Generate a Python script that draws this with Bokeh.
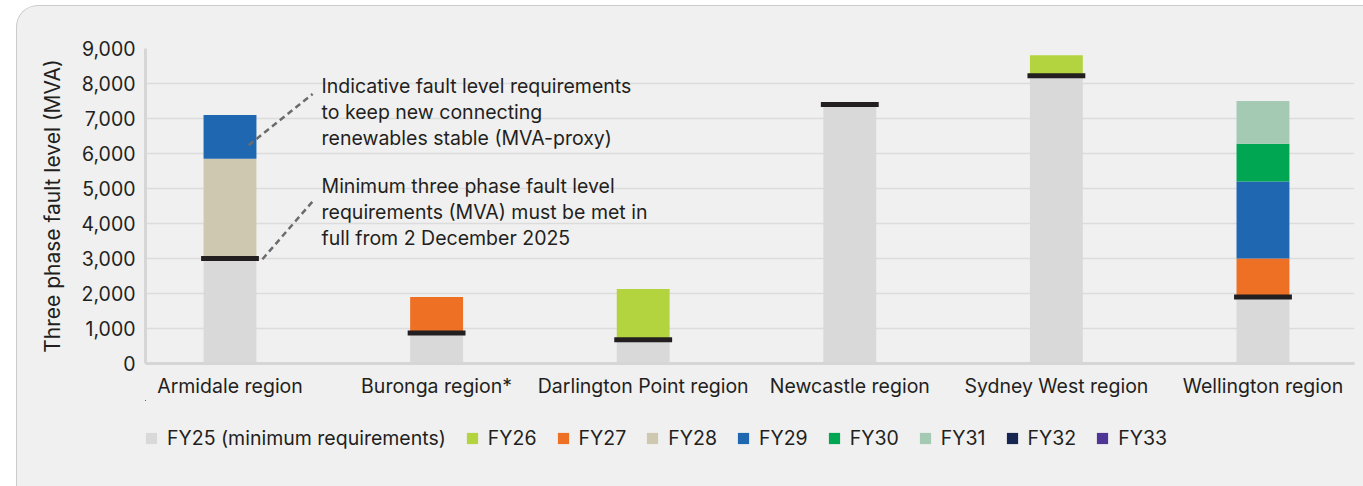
from bokeh.plotting import figure
from bokeh.layouts import column
from bokeh.models import (Range1d, FixedTicker, NumeralTickFormatter, Legend, LegendItem,
                          Label, Arrow, ColumnDataSource)
from bokeh.embed import file_html
from bokeh.resources import INLINE

# ---- data ----
regions = ["Armidale region", "Buronga region*", "Darlington Point region",
           "Newcastle region", "Sydney West region", "Wellington region"]
fy25 = [3000, 870, 680, 7400, 8220, 1900]
fy26 = [0, 0, 1450, 0, 590, 0]
fy27 = [0, 1030, 0, 0, 0, 1100]
fy28 = [2850, 0, 0, 0, 0, 0]
fy29 = [1250, 0, 0, 0, 0, 2200]
fy30 = [0, 0, 0, 0, 0, 1080]
fy31 = [0, 0, 0, 0, 0, 1220]
fy32 = [0, 0, 0, 0, 0, 0]
fy33 = [0, 0, 0, 0, 0, 0]
series_names = ["FY25 (minimum requirements)", "FY26", "FY27", "FY28", "FY29",
                "FY30", "FY31", "FY32", "FY33"]
y_ticks = [0, 1000, 2000, 3000, 4000, 5000, 6000, 7000, 8000, 9000]

colors = ["#d9d9d9", "#b4d43f", "#ed7024", "#cfc8b0", "#1f67b1",
          "#00a651", "#a4cab4", "#172651", "#4e3596"]

FONT = "Inter"
TXT = "#231f20"
BG = "#f0f0f0"

idx = list(range(len(regions)))
keys = ["s%d" % i for i in range(len(series_names))]
data = {"x": idx}
for k, arr in zip(keys, [fy25, fy26, fy27, fy28, fy29, fy30, fy31, fy32, fy33]):
    data[k] = arr
src = ColumnDataSource(data)

W = 1346

# ---- main chart ----
p = figure(width=W, height=394, output_backend="svg", toolbar_location=None,
           x_range=Range1d(-0.409, 5.443), y_range=Range1d(0, 9000),
           min_border_left=128, min_border_top=42, min_border_right=9,
           min_border_bottom=37)
p.background_fill_color = BG
p.border_fill_color = BG
p.outline_line_color = None

rends = p.vbar_stack(keys, x="x", width=0.256, source=src, color=colors, line_color=None)

# minimum requirement markers
p.rect(x=idx, y=fy25, width=0.28, height=5, height_units="screen",
       fill_color="#231f20", line_color=None)

p.xgrid.grid_line_color = None
p.ygrid.grid_line_color = "#dcdcdc"
p.ygrid.grid_line_width = 1.5
p.yaxis.ticker = FixedTicker(ticks=y_ticks)
p.yaxis.formatter = NumeralTickFormatter(format="0,0")
p.xaxis.ticker = FixedTicker(ticks=idx)
p.xaxis.major_label_overrides = {i: r for i, r in zip(idx, regions)}
for ax in (p.xaxis[0], p.yaxis[0]):
    ax.axis_line_color = "#d6d6d6"
    ax.axis_line_width = 3
    ax.major_tick_line_color = None
    ax.minor_tick_line_color = None
    ax.major_label_text_font = FONT
    ax.major_label_text_font_size = "19.5px"
    ax.major_label_text_color = TXT
p.xaxis.major_label_standoff = 4
p.yaxis.major_label_standoff = 4
p.yaxis.axis_label = "Three phase fault level (MVA)"
p.yaxis.axis_label_text_font = FONT
p.yaxis.axis_label_text_font_size = "21px"
p.yaxis.axis_label_text_font_style = "normal"
p.yaxis.axis_label_text_color = TXT
p.yaxis.axis_label_standoff = 14

# annotations
ann1 = ["Indicative fault level requirements", "to keep new connecting",
        "renewables stable (MVA-proxy)"]
ann2 = ["Minimum three phase fault level", "requirements (MVA) must be met in",
        "full from 2 December 2025"]
for lines, ys in ((ann1, [7923, 7180, 6437]), (ann2, [5066, 4323, 3580])):
    for t, yy in zip(lines, ys):
        p.add_layout(Label(x=0.443, y=yy, text=t, text_font=FONT,
                           text_font_size="19.5px", text_color=TXT,
                           text_baseline="alphabetic"))
for (x0, y0, x1, y1) in ((0.09, 6237, 0.40, 7700), (0.157, 2980, 0.41, 4700)):
    p.add_layout(Arrow(x_start=x0, y_start=y0, x_end=x1, y_end=y1, end=None,
                       line_color="#6b6b6b", line_width=2.5, line_dash="6 4"))

# ---- legend strip (same series, drawn out of view; only the legend shows) ----
lg = figure(width=W, height=86, output_backend="svg", toolbar_location=None,
            x_range=Range1d(100, 101), y_range=Range1d(-2, -1),
            min_border=0, x_axis_type=None, y_axis_type=None)
lg.background_fill_color = BG
lg.border_fill_color = BG
lg.outline_line_color = None
lg.xgrid.visible = False
lg.ygrid.visible = False
lrends = lg.vbar_stack(keys, x="x", width=0.256, source=src, color=colors, line_color=None)
items = [LegendItem(label=n, renderers=[r]) for n, r in zip(series_names, lrends)]
leg = Legend(items=items, orientation="horizontal", location=(-1, 36),
             background_fill_alpha=0, border_line_color=None,
             glyph_width=14, glyph_height=14, label_standoff=9, spacing=19,
             padding=0, margin=0, label_text_font=FONT, label_text_font_size="19.5px",
             label_text_color=TXT, label_height=20)
lg.add_layout(leg, "center")

layout = column(p, lg, spacing=0)
layout.styles = {"margin-left": "16px", "margin-top": "5px",
                 "border-top": "1px solid #cbcbcb", "border-left": "1px solid #cbcbcb",
                 "border-top-left-radius": "22px",
                 "overflow": "hidden", "background-color": BG}

open("out.html", "w").write(file_html(layout, INLINE))
